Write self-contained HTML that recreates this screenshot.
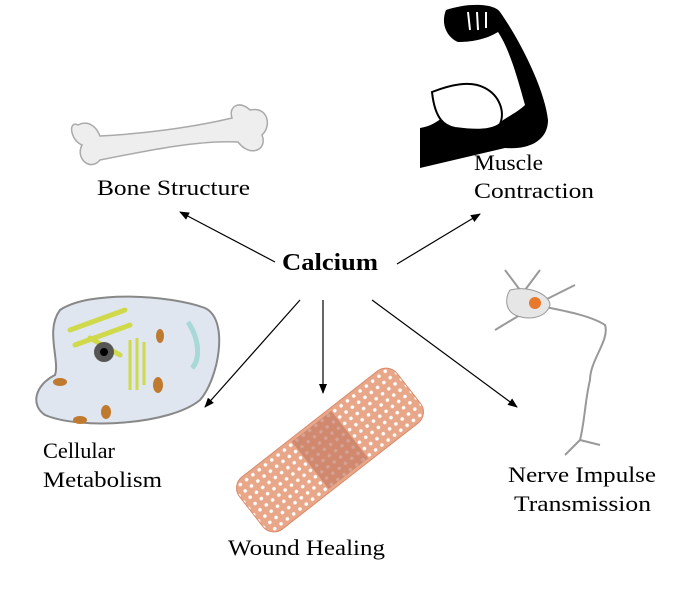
<!DOCTYPE html>
<html><head><style>
body{margin:0;background:#fff;}
svg{display:block;font-family:"Liberation Serif",serif;}
</style></head><body>
<svg width="685" height="613" viewBox="0 0 685 613" xmlns="http://www.w3.org/2000/svg">
<defs>
<marker id="a" markerWidth="10" markerHeight="8" refX="9" refY="4" orient="auto" markerUnits="userSpaceOnUse"><path d="M0,0 L10,4 L0,8 z" fill="#000"/></marker>
<pattern id="dots" width="8" height="8" patternUnits="userSpaceOnUse"><rect width="8" height="8" fill="#e9a78a"/><circle cx="4" cy="4" r="1.8" fill="#fff"/></pattern>
</defs>
<!-- bone -->
<path d="M78,125 C68,120 70,140 82,145 C75,158 90,172 100,160 C150,150 200,140 238,142 C250,158 268,150 262,135 C272,126 268,106 250,110 C240,100 228,106 232,118 C190,128 140,134 100,136 C96,126 88,120 78,125 z" fill="#eeeeee" stroke="#aaa" stroke-width="1.5"/>
<!-- muscle -->
<path d="M446,10 C470,2 495,4 500,12 C520,40 545,90 548,120 C548,140 530,150 505,148 L420,168 L420,128 C440,125 448,110 455,108 C465,104 480,118 490,118 L498,124 C505,118 518,112 525,105 C518,80 510,50 498,32 C485,40 470,42 458,42 C448,38 440,25 446,10 z" fill="#000"/>
<path d="M432,92 C450,85 470,80 485,88 C500,96 505,112 500,124 C490,132 470,130 455,128 C445,126 435,120 432,92 z" fill="#fff" stroke="#000" stroke-width="2"/>
<path d="M470,30 L468,12 M478,30 L477,12 M486,28 L486,12" stroke="#fff" stroke-width="2"/>
<!-- cell -->
<path d="M60,310 C90,290 170,295 205,308 C230,320 218,380 200,400 C170,425 80,430 45,415 C30,405 35,385 55,375 C60,360 45,330 60,310 z" fill="#dfe6f0" stroke="#888" stroke-width="2"/>
<path d="M70,330 L125,310 M75,345 L130,325 M90,338 L120,355" stroke="#cfd94a" stroke-width="5" stroke-linecap="round"/>
<circle cx="104" cy="352" r="10" fill="#555"/><circle cx="104" cy="352" r="4" fill="#000"/>
<path d="M130,340 L130,390 M137,338 L137,390 M144,342 L144,385" stroke="#cfd94a" stroke-width="3"/>
<path d="M188,322 C200,340 200,360 192,368" stroke="#a8d8d8" stroke-width="5" fill="none"/>
<ellipse cx="60" cy="382" rx="7" ry="4" fill="#c07a30"/><ellipse cx="158" cy="385" rx="5" ry="8" fill="#c07a30"/><ellipse cx="160" cy="336" rx="4" ry="7" fill="#c07a30"/><ellipse cx="80" cy="420" rx="7" ry="4" fill="#c07a30"/><ellipse cx="106" cy="412" rx="5" ry="7" fill="#c07a30"/>
<!-- bandage -->
<g transform="translate(330,450) rotate(-38)">
<rect x="-100" y="-33" width="200" height="66" rx="14" fill="url(#dots)" stroke="#d98b6a"/>
<rect x="-25" y="-30" width="50" height="60" fill="#c47a62" opacity="0.7"/>
</g>
<!-- neuron -->
<g stroke="#999" stroke-width="2" fill="none">
<path d="M535,305 C560,310 590,315 605,325 C610,340 590,360 590,380 C585,400 585,420 580,440"/>
<path d="M520,290 L505,270 M525,290 L540,270 M520,315 L495,330 M545,300 L575,285 M580,440 L565,455 M580,440 L600,445"/>
</g>
<path d="M510,290 C530,285 550,295 550,305 C545,320 525,320 515,315 C505,310 505,298 510,290 z" fill="#e6e6e6" stroke="#999"/>
<circle cx="535" cy="303" r="6" fill="#e8782c"/>
<!-- arrows -->
<g stroke="#000" stroke-width="1.2" marker-end="url(#a)">
<line x1="275" y1="262" x2="180" y2="212"/>
<line x1="397" y1="264" x2="480" y2="214"/>
<line x1="300" y1="300" x2="205" y2="407"/>
<line x1="323" y1="300" x2="323" y2="393"/>
<line x1="372" y1="300" x2="517" y2="407"/>
</g>
<g font-size="22" fill="#000">
<text x="97" y="195" textLength="153" lengthAdjust="spacingAndGlyphs">Bone Structure</text>
<text x="474" y="170" textLength="69" lengthAdjust="spacingAndGlyphs">Muscle</text>
<text x="474" y="198" textLength="120" lengthAdjust="spacingAndGlyphs">Contraction</text>
<text x="282" y="270" font-weight="bold" font-size="24" textLength="96" lengthAdjust="spacingAndGlyphs">Calcium</text>
<text x="43" y="458" textLength="72" lengthAdjust="spacingAndGlyphs">Cellular</text>
<text x="43" y="487" textLength="119" lengthAdjust="spacingAndGlyphs">Metabolism</text>
<text x="228" y="555" textLength="157" lengthAdjust="spacingAndGlyphs">Wound Healing</text>
<text x="508" y="482" textLength="148" lengthAdjust="spacingAndGlyphs">Nerve Impulse</text>
<text x="514" y="511" textLength="137" lengthAdjust="spacingAndGlyphs">Transmission</text>
</g>
</svg>
</body></html>
